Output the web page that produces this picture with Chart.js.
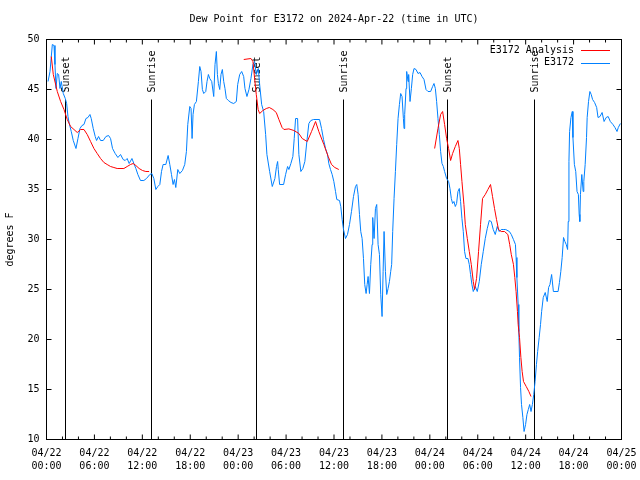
<!DOCTYPE html>
<html>
<head>
<meta charset="utf-8">
<script src="https://cdn.jsdelivr.net/npm/chart.js@4"></script>
<style>
  html, body { margin: 0; padding: 0; background: #fff; }
  canvas { display: block; }
</style>
</head>
<body>
<canvas id="dewChart" width="640" height="480"></canvas>
<script>
// hours since 04/22 00:00 UTC
const obsHours = [0.19,0.44,0.73,0.94,1.06,1.19,1.35,1.52,1.69,1.85,2.1,2.35,2.52,2.69,2.85,3.1,3.35,3.69,3.94,4.19,4.44,4.69,4.94,5.19,5.44,5.6,5.85,6.1,6.27,6.52,6.77,7.1,7.44,7.77,8.02,8.27,8.6,8.94,9.27,9.6,9.85,10.1,10.35,10.7,10.94,11.19,11.44,11.77,12.19,12.52,12.94,13.19,13.44,13.69,13.94,14.19,14.4,14.6,14.94,15.23,15.44,15.65,15.85,16.02,16.19,16.44,16.69,17.02,17.31,17.52,17.69,17.94,18.1,18.23,18.35,18.52,18.77,19.02,19.19,19.35,19.52,19.69,19.94,20.1,20.27,20.44,20.69,20.94,21.1,21.27,21.4,21.52,21.69,21.85,22.02,22.19,22.35,22.52,22.77,23.1,23.44,23.77,23.94,24.19,24.44,24.69,24.85,25.1,25.35,25.6,25.85,26.06,26.27,26.52,26.69,26.94,27.19,27.44,27.6,27.94,28.27,28.6,28.8,28.94,29.02,29.19,29.69,29.94,30.19,30.35,30.6,30.85,31.02,31.19,31.44,31.6,31.85,32.1,32.35,32.6,32.85,33.1,33.44,34.19,34.44,34.69,34.94,35.19,35.35,35.56,35.77,35.98,36.19,36.35,36.69,36.85,37.02,37.19,37.44,37.69,37.94,38.19,38.44,38.69,38.85,39.02,39.19,39.35,39.52,39.69,39.85,40.02,40.15,40.27,40.44,40.6,40.77,40.85,41.02,41.19,41.35,41.52,41.69,41.85,42.02,42.15,42.27,42.44,42.6,42.77,42.94,43.1,43.22,43.35,43.52,43.69,43.85,44.02,44.19,44.35,44.52,44.69,44.77,44.85,45.02,45.1,45.27,45.35,45.52,45.69,45.85,46.02,46.27,46.52,46.77,47.02,47.27,47.52,47.77,48.1,48.35,48.52,48.69,48.85,49.02,49.19,49.35,49.52,49.69,49.85,50.1,50.35,50.52,50.69,50.85,51.02,51.19,51.35,51.52,51.69,51.85,52.02,52.19,52.35,52.52,52.77,52.94,53.1,53.27,53.44,53.69,53.94,54.19,54.44,54.69,54.94,55.19,55.44,55.69,55.94,56.19,56.44,56.69,56.94,57.19,57.5,57.96,58.2,58.47,58.72,58.8,58.9,59.06,59.14,59.23,59.36,59.48,59.65,59.8,59.99,60.16,60.33,60.5,60.67,60.84,61.01,61.18,61.35,61.5,61.69,61.86,62.0,62.2,62.45,62.7,62.87,63.04,63.25,63.47,63.8,64.06,64.23,64.4,64.57,64.74,64.91,65.08,65.25,65.33,65.42,65.5,65.67,65.84,65.92,66.1,66.27,66.43,66.6,66.7,66.78,66.86,67.03,67.2,67.28,67.45,67.62,67.7,67.87,68.04,68.21,68.38,68.63,68.89,69.06,69.31,69.57,69.82,70.08,70.33,70.6,70.93,71.18,71.44,71.6,71.86];
const obsDew = [45.8,46.8,49.5,49.4,47.5,45.1,46.6,46.5,45.1,45.8,44.6,44.1,43.6,42.3,41.6,40.8,39.9,39.1,40.1,41.1,41.4,41.5,42.1,42.2,42.5,42.1,41.1,40.3,39.9,40.3,39.9,39.9,40.3,40.4,40.1,39.1,38.6,38.2,38.5,38.0,37.9,38.1,37.6,38.1,37.6,37.1,36.5,35.9,35.9,36.1,36.5,36.6,36.1,35.0,35.3,35.5,36.8,37.5,37.5,38.4,37.5,36.5,35.5,36.0,35.2,37.0,36.6,36.9,37.5,38.8,41.5,43.3,43.1,40.1,42.5,43.5,43.8,45.8,47.3,46.8,45.0,44.6,44.8,45.8,46.5,46.1,45.8,44.3,47.5,48.8,46.5,45.6,45.0,46.5,47.0,45.8,45.1,44.1,43.9,43.7,43.6,43.8,45.5,46.5,46.8,46.3,45.1,44.3,45.0,46.1,47.5,47.8,46.5,47.1,45.5,43.5,42.8,40.5,38.5,36.8,35.3,36.1,37.3,37.8,37.0,35.5,35.5,36.5,37.3,37.0,37.6,38.3,40.1,42.1,42.1,38.5,36.8,37.1,37.8,39.8,41.6,41.9,42.0,42.0,41.1,40.0,39.1,38.5,37.6,37.0,36.5,35.8,34.8,34.0,33.9,33.3,32.0,31.0,30.1,30.5,31.5,32.8,34.3,35.3,35.5,34.5,32.5,30.8,30.1,28.1,25.5,24.6,25.5,26.3,24.6,27.5,29.5,32.2,30.1,33.1,33.5,29.5,28.5,24.5,22.3,26.8,30.8,26.8,24.5,25.1,25.8,26.8,27.5,30.8,34.1,36.8,39.5,42.1,43.5,44.6,44.3,42.1,41.1,42.5,45.1,46.8,45.8,46.5,43.8,45.1,46.5,47.1,47.0,46.6,46.7,46.3,46.0,45.0,44.8,44.8,45.3,45.6,45.1,43.8,42.1,40.5,38.8,37.6,37.3,36.8,36.1,35.8,35.1,34.1,33.6,33.8,33.3,33.6,34.8,35.1,33.8,32.1,30.8,28.8,28.1,28.1,27.5,26.5,25.5,24.8,25.3,24.8,25.8,27.5,28.8,30.1,31.1,31.9,31.8,31.0,30.5,31.3,30.8,31.0,31.0,31.0,30.8,30.5,30.0,29.5,28.2,26.2,23.5,20.8,18.2,15.2,13.5,12.2,10.8,11.5,12.5,13.0,13.5,12.8,13.5,14.5,15.8,17.5,18.8,20.2,21.5,22.8,24.2,24.7,23.8,25.2,25.5,26.5,24.8,24.8,24.8,25.7,26.8,28.2,30.2,29.8,29.5,29.0,31.8,37.8,40.8,42.2,42.8,40.2,37.5,36.8,34.8,34.5,32.5,31.8,34.5,36.5,34.8,35.8,37.5,40.2,42.2,43.8,44.8,44.5,44.0,43.7,43.2,42.2,42.3,42.7,41.8,42.2,42.3,41.8,41.5,41.2,40.8,41.2,41.6];

// analysis, null breaks the line between days
const anaHours = [0.6,0.85,1.35,1.77,2.19,2.6,3.02,3.44,3.85,4.27,4.69,5.1,5.52,5.94,6.35,6.77,7.19,7.6,8.02,8.44,8.85,9.69,10.1,10.52,10.85,11.19,11.6,12.02,12.44,12.85,18,24.7,25.6,25.85,26.06,26.27,26.5,26.69,27.1,27.52,27.9,28.35,28.77,29.1,29.5,29.73,30.35,30.98,31.6,32.02,32.65,33.19,33.69,34.1,34.73,35.27,35.69,36.1,36.6,42,48.6,49.02,49.35,49.6,49.85,50.1,50.35,50.6,50.85,51.19,51.52,51.69,51.85,52.02,52.27,52.44,52.69,52.94,53.19,53.44,53.6,53.85,54.1,54.35,54.6,54.94,55.27,55.6,55.85,56.1,56.35,56.6,56.94,57.35,57.77,58.0,58.2,58.47,58.64,58.8,58.97,59.06,59.23,59.4,59.56,59.73,60.07,60.4,60.67];
const anaDew = [48.3,46.5,44.8,43.8,43.0,42.0,41.3,41.0,40.7,41.0,41.0,40.5,39.8,39.1,38.6,38.1,37.7,37.5,37.3,37.2,37.1,37.1,37.3,37.5,37.6,37.4,37.1,36.9,36.8,36.8,null,48.0,48.1,47.8,46.1,44.5,43.0,42.6,42.9,43.1,43.2,43.0,42.7,42.0,41.2,41.0,41.06,40.9,40.6,40.1,39.8,40.8,41.8,40.8,39.5,38.3,37.5,37.2,37.0,null,39.1,41.1,42.5,42.8,41.5,40.1,39.1,37.9,38.6,39.3,39.9,39.1,37.5,35.8,33.5,31.5,30.1,28.8,27.5,25.8,25.0,26.1,28.8,31.5,34.1,34.5,35.0,35.5,34.3,33.1,32.0,31.0,30.8,30.8,30.5,29.5,28.5,27.5,26.2,24.8,22.8,21.5,20.2,18.2,16.8,15.8,15.3,14.8,14.3];

const sunsetHours = [2.3, 26.2, 50.2];
const sunriseHours = [13.1, 37.1, 61.0];

const tickDays = ['04/22','04/22','04/22','04/22','04/23','04/23','04/23','04/23','04/24','04/24','04/24','04/24','04/25'];
const tickTimes = ['00:00','06:00','12:00','18:00','00:00','06:00','12:00','18:00','00:00','06:00','12:00','18:00','00:00'];

const FONT = '10px "DejaVu Sans Mono"';

function toPoints(hours, vals) {
  return hours.map((h, i) => ({ x: h, y: vals[i] }));
}

const gnuplotLook = {
  id: 'gnuplotLook',
  beforeDatasetsDraw(chart) {
    const { ctx, chartArea: a, scales: { x, y } } = chart;
    ctx.save();
    ctx.strokeStyle = '#000';
    ctx.fillStyle = '#000';
    ctx.lineWidth = 1;
    ctx.font = FONT;
    const events = sunsetHours.map(h => [h, 'Sunset']).concat(sunriseHours.map(h => [h, 'Sunrise']));
    events.forEach(([h, label]) => {
      const px = Math.round(x.getPixelForValue(h)) + 0.5;
      const top = y.getPixelForValue(44);
      ctx.beginPath();
      ctx.moveTo(px, top);
      ctx.lineTo(px, a.bottom);
      ctx.stroke();
      ctx.save();
      ctx.translate(px + 1, top - 7);
      ctx.rotate(-Math.PI / 2);
      ctx.textAlign = 'left';
      ctx.textBaseline = 'middle';
      ctx.fillText(label, 0, 0);
      ctx.restore();
    });
    ctx.restore();
  },
  afterDraw(chart) {
    const { ctx, chartArea: a, scales: { x, y } } = chart;
    ctx.save();
    ctx.strokeStyle = '#000';
    ctx.fillStyle = '#000';
    ctx.lineWidth = 1;
    ctx.strokeRect(a.left, a.top, a.right - a.left, a.bottom - a.top);

    // inward ticks on all four sides
    ctx.beginPath();
    x.ticks.forEach((t, i) => {
      const px = x.getPixelForValue(t.value);
      ctx.moveTo(px, a.bottom); ctx.lineTo(px, a.bottom - 5);
      ctx.moveTo(px, a.top); ctx.lineTo(px, a.top + 5);
      if (i < x.ticks.length - 1) {
        const step = (x.ticks[i + 1].value - t.value) / 3;
        for (let k = 1; k < 3; k++) {
          const mx = x.getPixelForValue(t.value + k * step);
          ctx.moveTo(mx, a.bottom); ctx.lineTo(mx, a.bottom - 3);
          ctx.moveTo(mx, a.top); ctx.lineTo(mx, a.top + 3);
        }
      }
    });
    y.ticks.forEach(t => {
      const py = y.getPixelForValue(t.value);
      ctx.moveTo(a.left, py); ctx.lineTo(a.left + 5, py);
      ctx.moveTo(a.right, py); ctx.lineTo(a.right - 5, py);
    });
    ctx.stroke();

    ctx.font = FONT;
    ctx.textAlign = 'center';
    ctx.textBaseline = 'middle';
    ctx.fillText('Dew Point for E3172 on 2024-Apr-22 (time in UTC)', (a.left + a.right) / 2, 19);

    ctx.save();
    ctx.translate(10, (a.top + a.bottom) / 2);
    ctx.rotate(-Math.PI / 2);
    ctx.fillText('degrees F', 0, 0);
    ctx.restore();

    // key, top right
    ctx.textAlign = 'right';
    chart.data.datasets.forEach((ds, i) => {
      const ry = a.top + 10.5 + i * 12.5;
      ctx.fillStyle = '#000';
      ctx.fillText(ds.label, a.right - 47.5, ry);
      ctx.strokeStyle = ds.borderColor;
      ctx.beginPath();
      ctx.moveTo(a.right - 40.5, Math.round(ry) + 0.5);
      ctx.lineTo(a.right - 11.5, Math.round(ry) + 0.5);
      ctx.stroke();
    });
    ctx.restore();
  }
};

new Chart(document.getElementById('dewChart'), {
  type: 'line',
  data: {
    datasets: [
      {
        label: 'E3172 Analysis',
        data: toPoints(anaHours, anaDew),
        borderColor: '#ff0000',
        borderWidth: 1,
        pointRadius: 0,
        tension: 0,
        spanGaps: false
      },
      {
        label: 'E3172',
        data: toPoints(obsHours, obsDew),
        borderColor: '#0080ff',
        borderWidth: 1,
        pointRadius: 0,
        tension: 0
      }
    ]
  },
  options: {
    responsive: false,
    animation: false,
    devicePixelRatio: 1,
    layout: { padding: { top: 39.5, right: 18.5, left: 0, bottom: 0 } },
    plugins: {
      legend: { display: false },
      tooltip: { enabled: false }
    },
    scales: {
      x: {
        type: 'linear',
        min: 0,
        max: 72,
        grid: { display: false, drawTicks: false },
        border: { display: false },
        afterFit: s => { s.height = 40.5; s.paddingLeft = 0; s.paddingRight = 0; },
        ticks: {
          stepSize: 6,
          autoSkip: false,
          maxRotation: 0,
          padding: 7,
          color: '#000',
          font: { family: 'DejaVu Sans Mono', size: 10, lineHeight: 1.35 },
          callback: (v) => [tickDays[v / 6], tickTimes[v / 6]]
        }
      },
      y: {
        min: 10,
        max: 50,
        grid: { display: false, drawTicks: false },
        border: { display: false },
        afterFit: s => { s.width = 46.5; s.paddingTop = 0; s.paddingBottom = 0; },
        ticks: {
          stepSize: 5,
          padding: 7,
          color: '#000',
          font: { family: 'DejaVu Sans Mono', size: 10 }
        }
      }
    }
  },
  plugins: [gnuplotLook]
});
</script>
</body>
</html>
